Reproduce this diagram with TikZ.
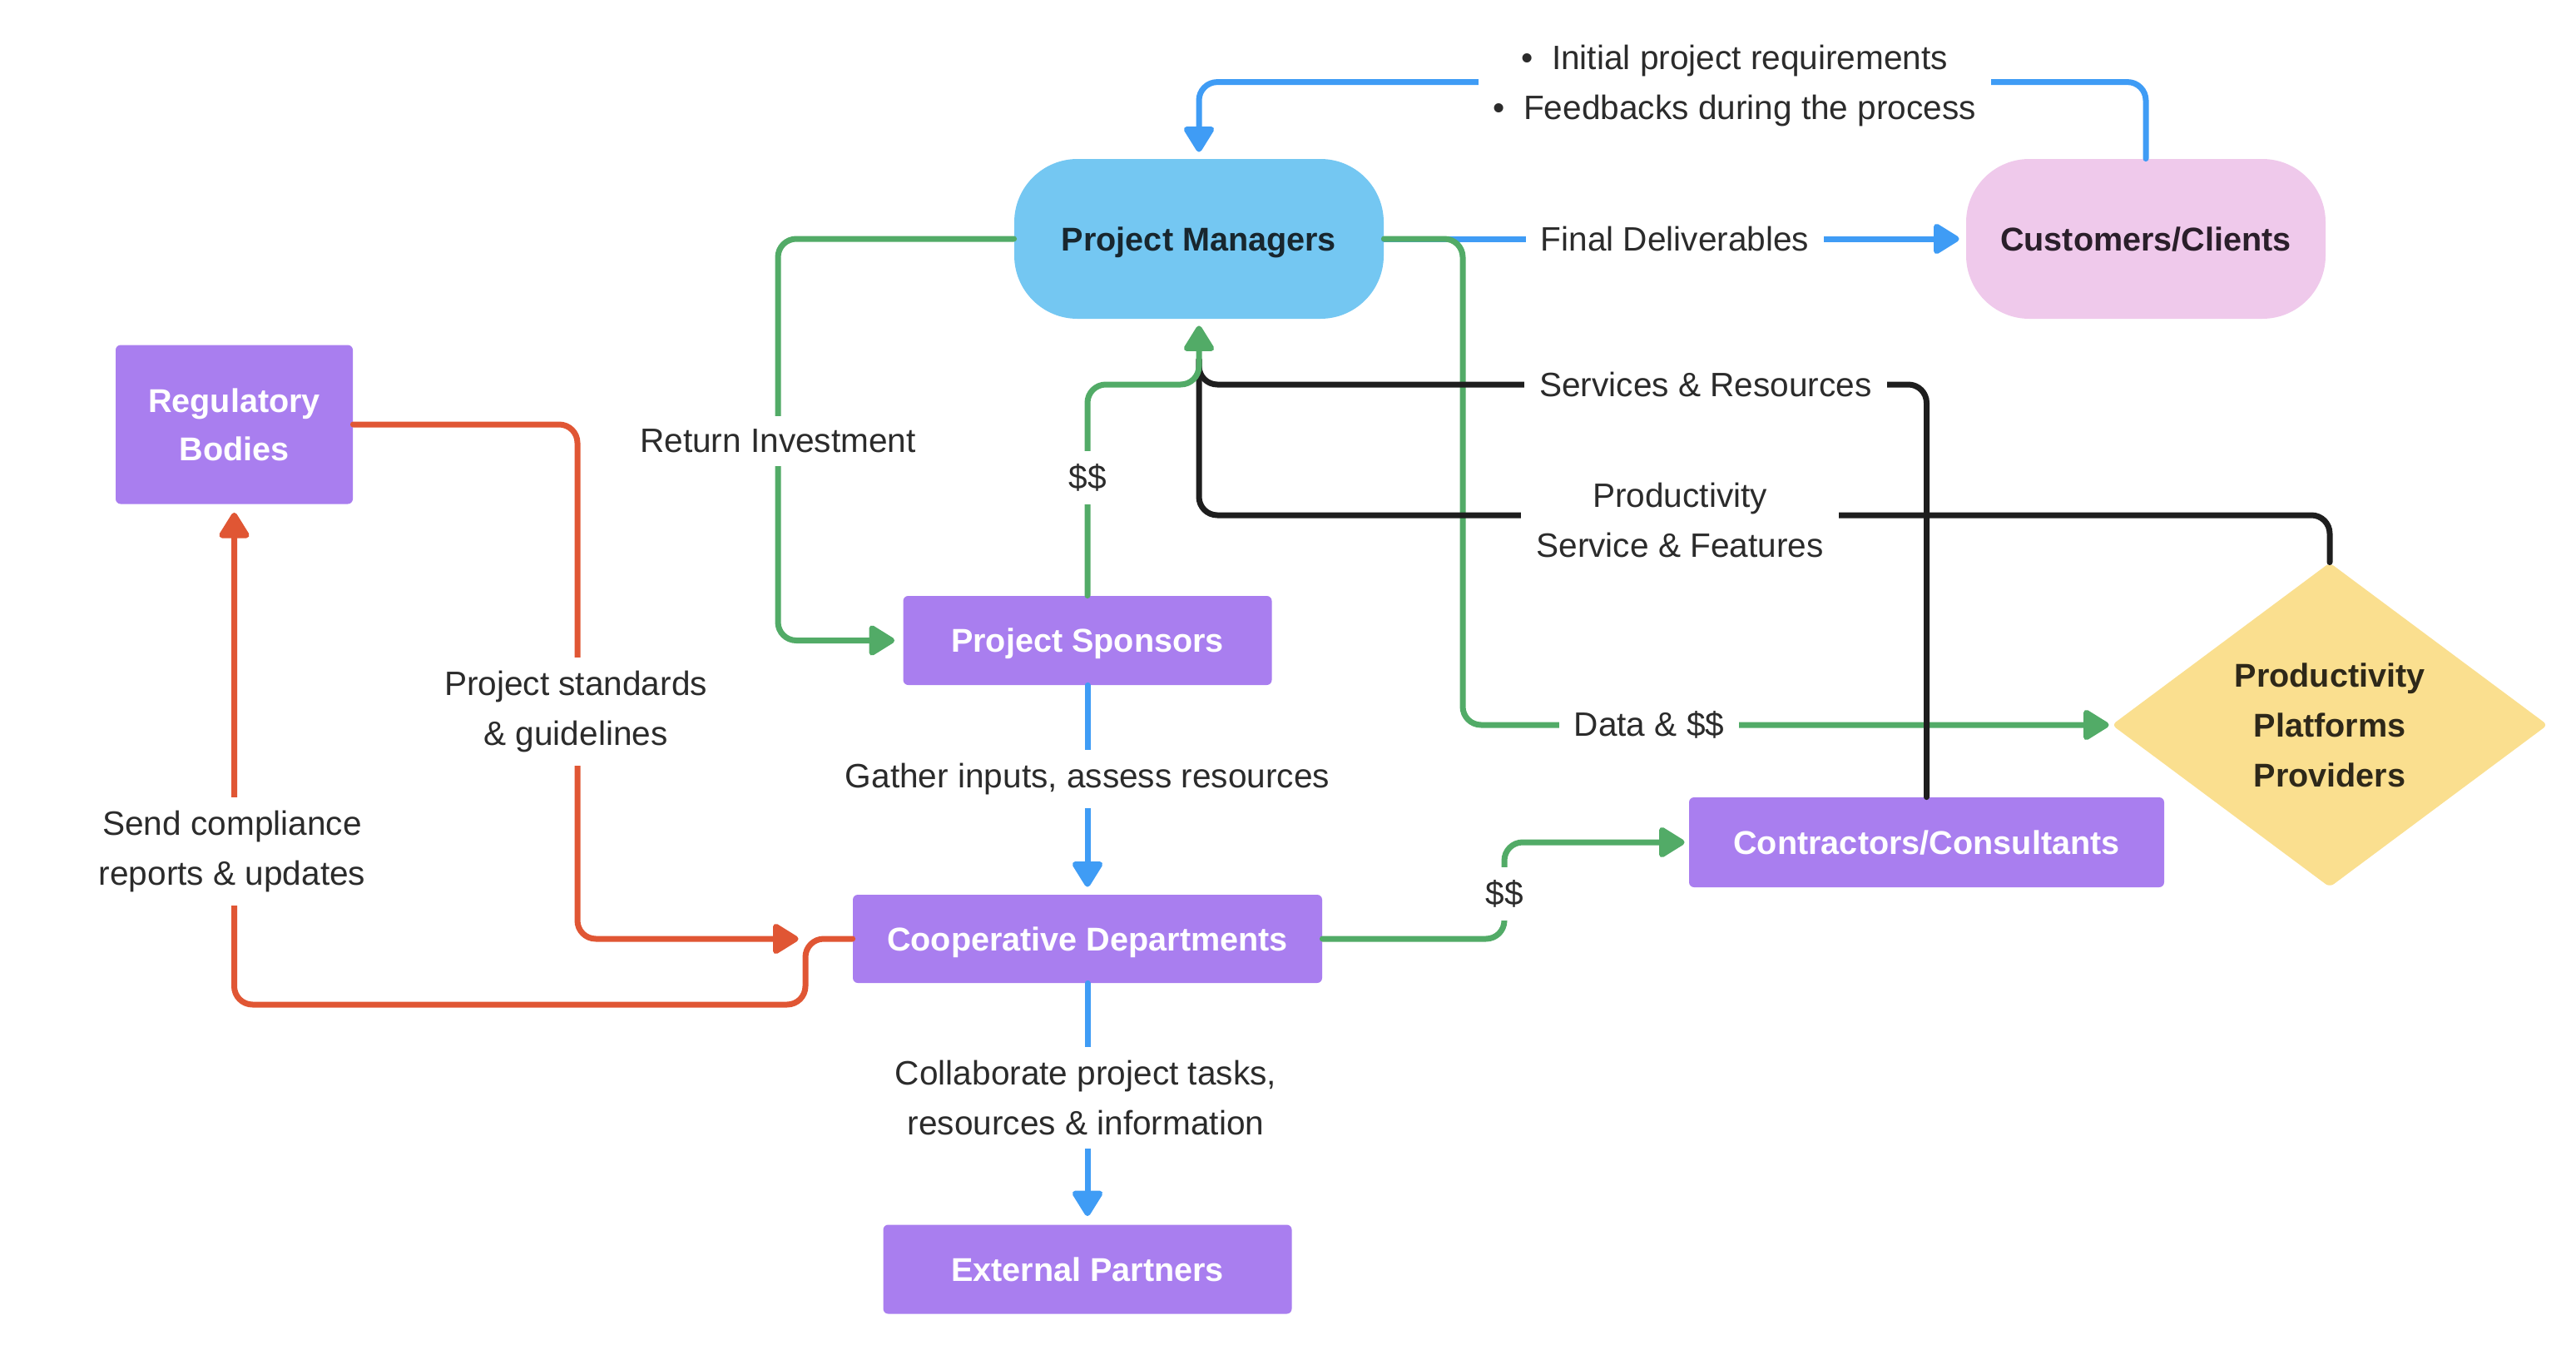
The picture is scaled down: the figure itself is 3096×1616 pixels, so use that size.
\documentclass[tikz,border=0pt]{standalone}
\usepackage{fontspec}
\setmainfont{Liberation Sans}
\usetikzlibrary{arrows.meta,shapes.geometric}
\definecolor{pmblue}{HTML}{74C7F2}
\definecolor{ccpink}{HTML}{EFC9EB}
\definecolor{purp}{HTML}{A97EEF}
\definecolor{yel}{HTML}{FADF8F}
\definecolor{lblue}{HTML}{3F9CF5}
\definecolor{lgreen}{HTML}{52AB67}
\definecolor{lred}{HTML}{E05634}
\definecolor{lblack}{HTML}{1E1E1E}
\definecolor{labtxt}{HTML}{2B2B2B}
\definecolor{pmtxt}{HTML}{18262E}
\definecolor{cctxt}{HTML}{2A1F2A}
\definecolor{dtxt}{HTML}{2E2819}
\begin{document}
\begin{tikzpicture}[x=0.5pt,y=-0.5pt,
  conn/.style={line width=3.5pt, line cap=round, line join=round, rounded corners=11pt},
  tip/.style={-{Triangle[length=17pt,width=20pt,round]}},
  bl/.style={conn, draw=lblue},
  gl/.style={conn, draw=lgreen},
  rl/.style={conn, draw=lred},
  kl/.style={conn, draw=lblack},
  box/.style={fill=purp, rounded corners=3pt, text=white, inner sep=0pt, align=center,
    font=\bfseries\fontsize{19.8}{29}\selectfont},
  onebox/.style={box, text height=14.2pt, text depth=0pt},
  lab/.style={fill=white, text=labtxt, inner xsep=9pt, inner ysep=8pt, align=center,
    font=\fontsize{20.3}{30}\selectfont},
]
\useasboundingbox (0,0) rectangle (3096,1616);

% main nodes
\node[onebox, fill=pmblue, text=pmtxt, rounded corners=38pt, minimum width=222pt, minimum height=96pt] (PM) at (1441,287) {Project Managers};
\node[onebox, fill=ccpink, text=cctxt, rounded corners=38pt, minimum width=216pt, minimum height=96pt] (CC) at (2579,287) {Customers/Clients};
\node[box, minimum width=142.5pt, minimum height=95.5pt] (RB) at (281.5,510) {Regulatory\\Bodies};
\node[onebox, minimum width=221.5pt, minimum height=53.5pt] (PS) at (1307,769.5) {Project Sponsors};
\node[onebox, minimum width=282pt, minimum height=53pt] (CD) at (1307,1128) {Cooperative Departments};
\node[onebox, minimum width=245.5pt, minimum height=53.5pt] (EP) at (1307,1525) {External Partners};
\node[onebox, minimum width=285.5pt, minimum height=54pt] (CT) at (2315.5,1012) {Contractors/Consultants};
\node[diamond, aspect=1.34, fill=yel, text=dtxt, inner sep=0pt, rounded corners=3pt, align=center,
  minimum width=262pt, minimum height=195pt, font=\bfseries\fontsize{19.8}{30}\selectfont] (D) at (2800,871)
  {Productivity\\Platforms\\Providers};

\coordinate (bj) at (1441,432);

% connectors
\draw[bl,tip] (CC.north) -- ++(0,-92) -| ([yshift=4pt]PM.north);
\draw[bl,tip] (PM.east) -- ([xshift=-4pt]CC.west);
\draw[gl,tip] (PM.east) -| (1758,871) -- ([xshift=-1.5pt]D.west);
\draw[gl,tip] (PM.west) -| (935,769.5) -- ([xshift=-5pt]PS.west);
\draw[kl] (CT.north) |- (1441,462) -- (bj);
\draw[kl] (D.north) |- (1441,619) -- (bj);
\draw[gl,tip] (PS.north) |- (1441,462) -- ([yshift=-4pt]PM.south);
\draw[rl,tip] (RB.east) -| (694,1128) -- ([xshift=-32.5pt]CD.west);
\draw[rl,tip] (CD.west) -- (968,1128) -- (968,1207) -| ([yshift=-5pt]RB.south);
\draw[bl,tip] (PS.south) -- ([yshift=4.5pt]CD.north);
\draw[bl,tip] (CD.south) -- ([yshift=5pt]EP.north);
\draw[gl,tip] (CD.east) -| (1808,1012) -- ([xshift=-2.5pt]CT.west);

% labels
\node[lab] (Lbul) at (2085,103) {•\hspace{11pt}Initial project requirements\\•\hspace{11pt}Feedbacks during the process};
\node[lab] (Lfd) at (2013,287) {Final Deliverables};
\node[lab] (Lsr) at (2050,462) {Services \& Resources};
\node[lab] (Lpsf) at (2019,625) {Productivity\\Service \& Features};
\node[lab] (Ldata) at (1982,871) {Data \& \$\$};
\node[lab] (Lri) at (935,530) {Return Investment};
\node[lab] (Ld1) at (1307,574) {\$\$};
\node[lab] (Lgi) at (1307,936) {Gather inputs, assess resources};
\node[lab] (Lcol) at (1305,1319) {Collaborate project tasks,\\resources \& information};
\node[lab] (Ld2) at (1808,1074) {\$\$};
\node[lab] (Lps) at (692,855) {Project standards\\\& guidelines};
\node[lab] (Lsc) at (279,1023) {Send compliance\\reports \& updates};
\end{tikzpicture}
\end{document}
